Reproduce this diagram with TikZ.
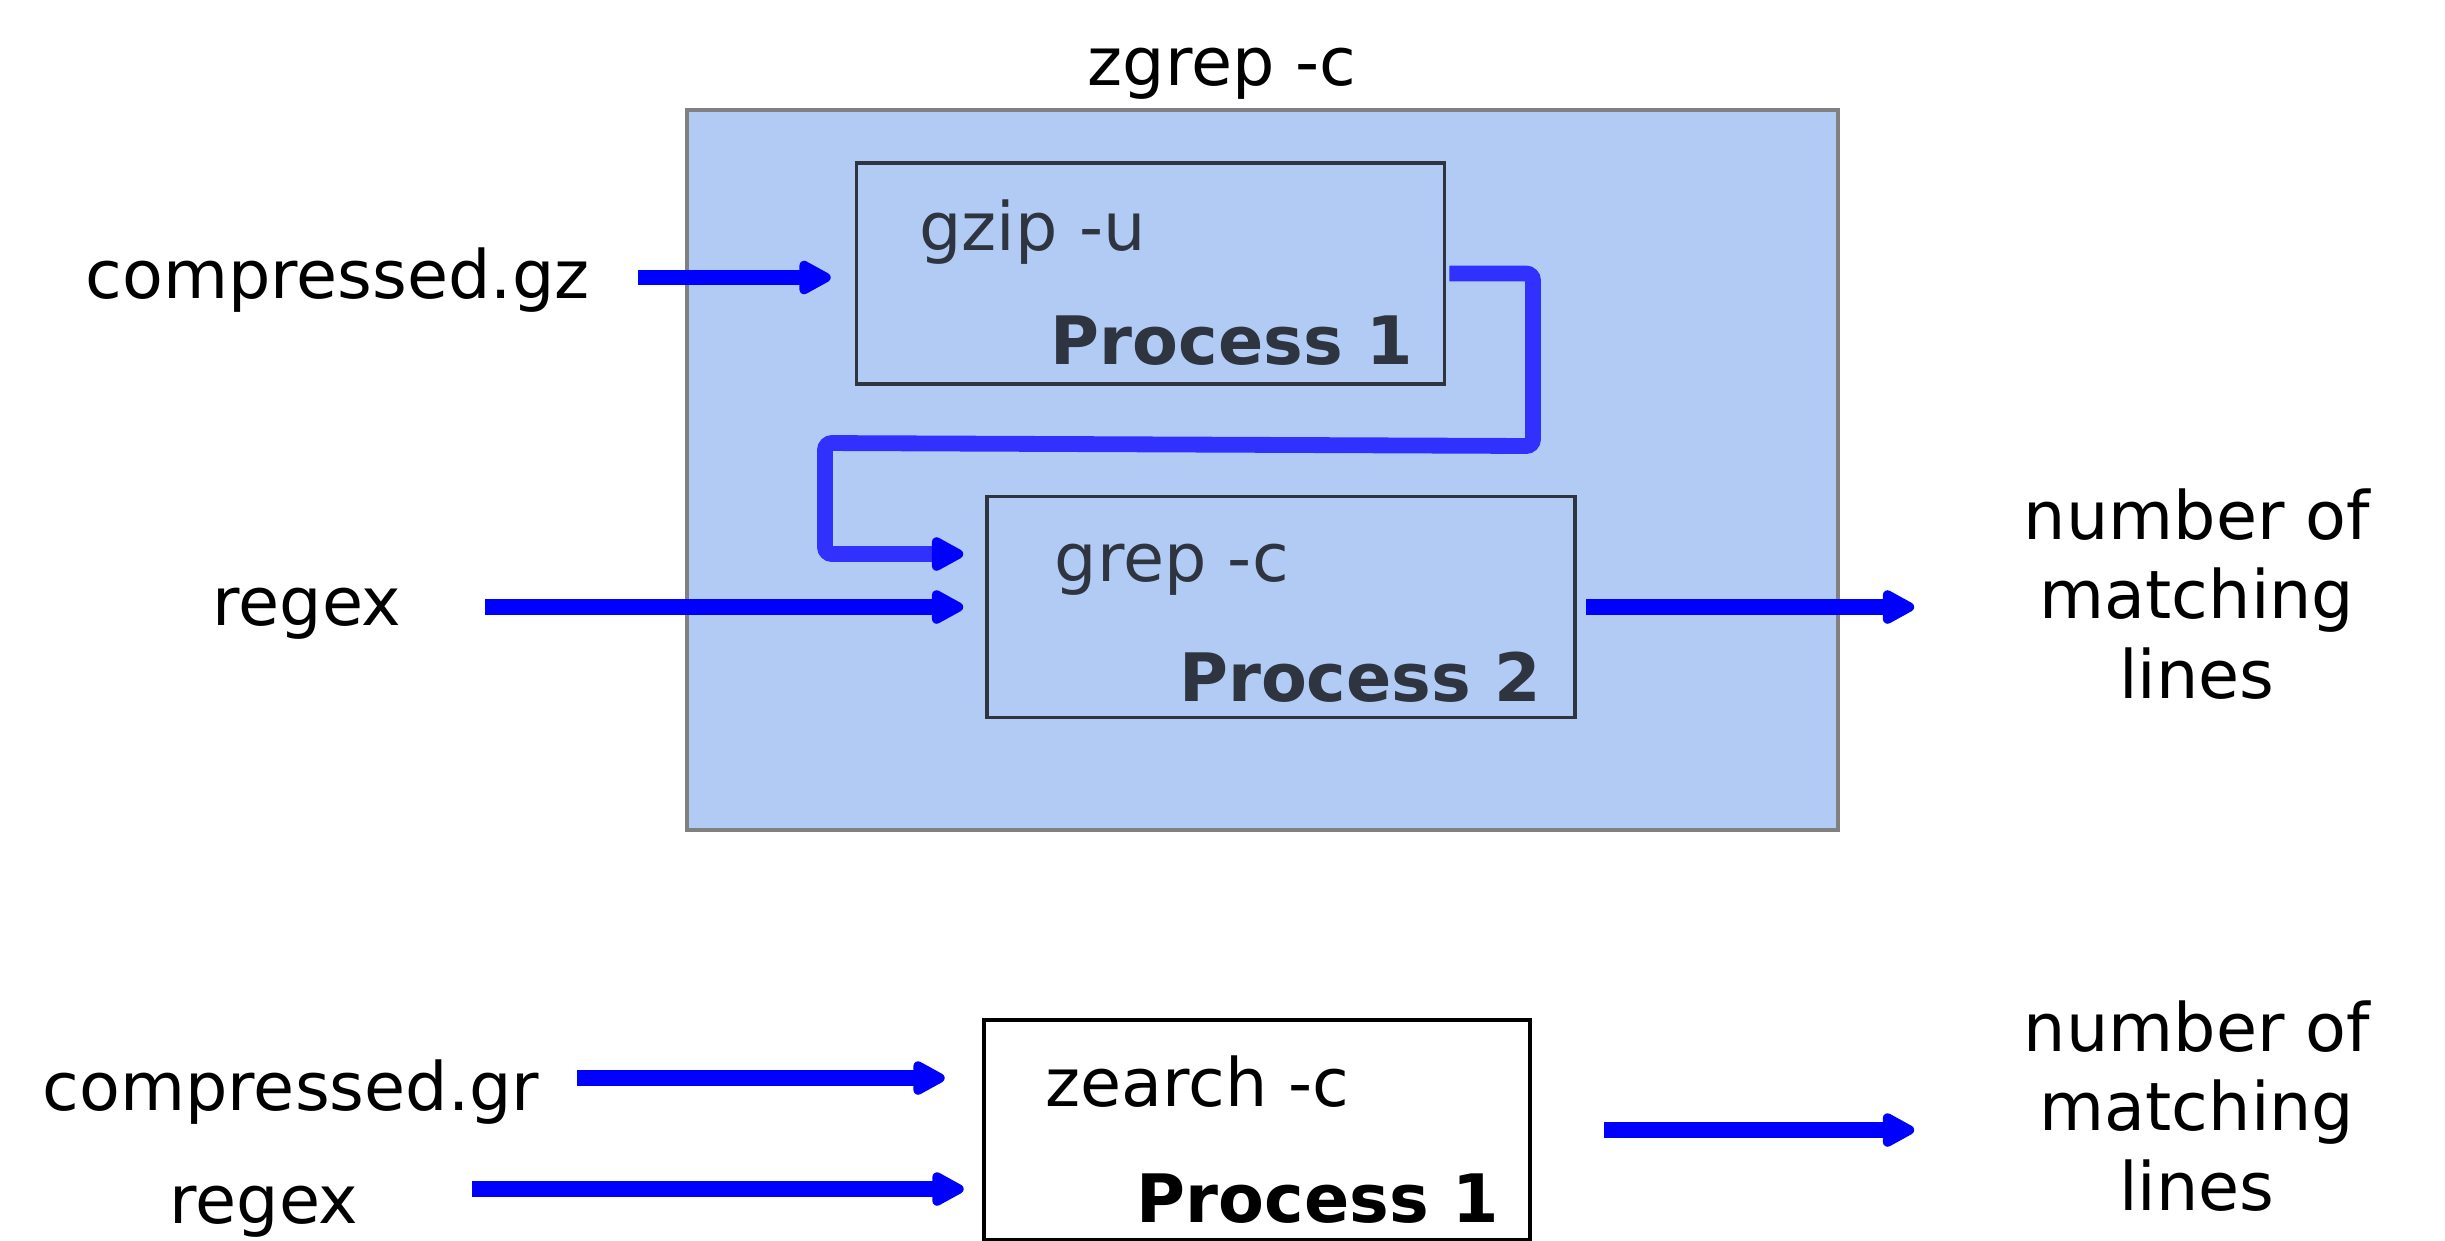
\documentclass[tikz,border=0pt]{standalone}
\usepackage{fontspec}
\setmainfont{DejaVu Sans}
\usepackage{tikz}
\usetikzlibrary{arrows.meta}

\definecolor{shellfill}{HTML}{B2CBF5}
\definecolor{shellline}{HTML}{808080}
\definecolor{procink}{HTML}{2E3440}
\definecolor{pipeblue}{HTML}{3030FF}

\begin{document}
\begin{tikzpicture}[
        font=\fontsize{19}{22.6}\selectfont,
        >={Triangle[round, width=0.37cm, length=0.37cm]},
        shell/.style={
          draw=shellline,
          fill=shellfill,
          line width=1.3pt,
          minimum width=11.51cm,
          minimum height=7.2cm
        },
        proc/.style={
          draw=procink,
          fill=shellfill,
          line width=1pt,
          minimum width=5.88cm,
          minimum height=2.21cm
        },
        label/.style={inner sep=0pt, anchor=base},
        cmd/.style={inner sep=0pt, anchor=base west},
        pid/.style={inner sep=0pt, anchor=base east, font=\fontsize{19}{22.6}\selectfont\bfseries},
        flow/.style={->, blue, line width=4.5pt},
        pipe/.style={-{Triangle[round, width=0.37cm, length=0.37cm, color=blue]},
          pipeblue, line width=4.5pt, rounded corners=2pt}
      ]
      \useasboundingbox (0,0) rectangle (24.45,-12.40);

      % zgrep: gzip piped into grep
      \node[shell] (zgrep) at (12.625,-4.70) {};
      \node[label] (zgreptitle) at (12.22,-0.85) {zgrep -c};

      \node[proc] (gzip) at (11.505,-2.735) {};
      \node[cmd, text=procink] at ([shift={(0.64,-0.89)}]gzip.north west) {gzip -u};
      \node[pid, text=procink] at ([shift={(-0.33,0.21)}]gzip.south east) {Process 1};

      \node[proc] (grep) at (12.81,-6.07) {};
      \node[cmd, text=procink] at ([shift={(0.69,-0.87)}]grep.north west) {grep -c};
      \node[pid, text=procink] at ([shift={(-0.35,0.18)}]grep.south east) {Process 2};

      \node[label] (cgz) at (3.375,-2.98) {compressed.gz};
      \node[label] (rxa) at (3.07,-6.25) {regex};
      \node[label, align=center] (cnta) at (21.97,-6.98) {number of\\matching\\lines};

      \coordinate (gzin) at ([yshift=-0.4mm]gzip.west);
      \coordinate (grepin) at ([yshift=5.3mm]grep.west);
      \coordinate (bendR) at (15.33,-4.46);
      \coordinate (bendL) at (8.25,-4.43);

      \draw[flow, shorten <=4.8mm, shorten >=2.4mm] (cgz.east |- gzin) -- (gzin);
      \draw[flow, shorten <=8.3mm, shorten >=2.2mm] (rxa.east |- grep.west) -- (grep.west);
      \draw[pipe, shorten >=2.2mm] ([xshift=0.3mm]gzip.east) -| (bendR) -- (bendL) |- (grepin);
      \draw[flow, shorten <=0.9mm, shorten >=1.09cm] (grep.east) -- (grep.east -| cnta.west);

      % zearch does it in one process
      \node[proc, draw=black, fill=white, line width=1.3pt, minimum width=5.46cm, minimum height=2.2cm] (zearch) at (12.57,-11.30) {};
      \node[cmd] at ([shift={(0.63,-0.89)}]zearch.north west) {zearch -c};
      \node[pid] at ([shift={(-0.33,0.20)}]zearch.south east) {Process 1};

      \node[label] (cgr) at (2.91,-11.10) {compressed.gr};
      \node[label] (rxb) at (2.64,-12.23) {regex};
      \node[label, align=center] (cntb) at (21.97,-12.10) {number of\\matching\\lines};

      \coordinate (zin1) at ([yshift=5.2mm]zearch.west);
      \coordinate (zin2) at ([yshift=-5.9mm]zearch.west);

      \draw[flow, shorten <=3.7mm, shorten >=3.7mm] (cgr.east |- zin1) -- (zin1);
      \draw[flow, shorten <=11.3mm, shorten >=1.8mm] (rxb.east |- zin2) -- (zin2);
      \draw[flow, shorten <=7.2mm, shorten >=1.09cm] (zearch.east) -- (zearch.east -| cntb.west);
    \end{tikzpicture}
\end{document}
